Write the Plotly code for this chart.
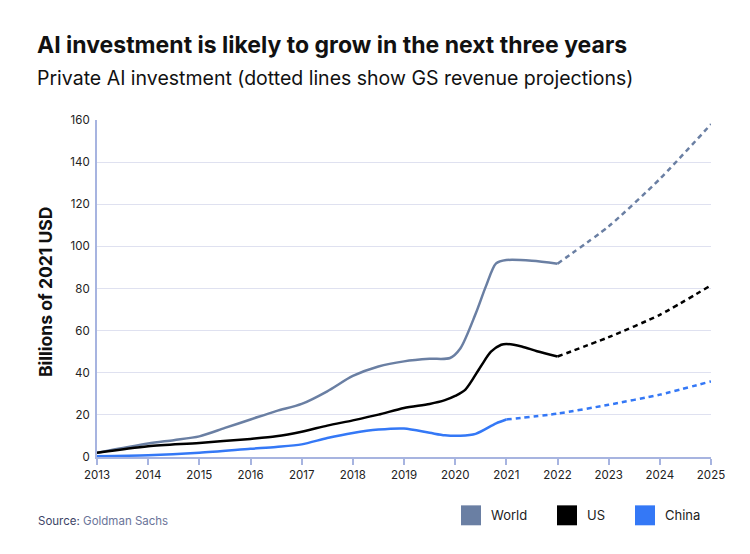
import plotly.graph_objects as go

# ---- data (billions of 2021 USD) ----
world_x = [2013, 2014, 2014.5, 2015, 2015.5, 2016, 2016.5, 2017, 2017.5, 2018, 2018.5, 2019, 2019.5, 2019.9,
           2020.1, 2020.4, 2020.6, 2020.8, 2021, 2021.5, 2022]
world_y = [2.0, 6.4, 8.0, 9.8, 13.8, 17.8, 21.8, 25.2, 31.2, 38.5, 43.0, 45.4, 46.6, 47.0,
           51.5, 68.0, 81.0, 91.9, 93.5, 93.2, 91.8]
world_proj_x = [2022, 2023, 2024, 2025]
world_proj_y = [91.8, 109.5, 132.0, 158.0]

us_x = [2013, 2014, 2015, 2016, 2016.5, 2017, 2017.5, 2018, 2018.5, 2019, 2019.5, 2019.8, 2020,
        2020.2, 2020.5, 2020.7, 2020.9, 2021, 2021.3, 2021.6, 2022]
us_y = [2.0, 5.1, 6.7, 8.6, 9.8, 12.0, 14.9, 17.4, 20.1, 23.3, 25.2, 27.0, 29.0,
        32.0, 43.0, 50.0, 53.3, 53.7, 52.5, 50.2, 47.7]
us_proj_x = [2022, 2023, 2024, 2025]
us_proj_y = [47.7, 56.9, 67.5, 81.5]

china_x = [2013, 2014, 2015, 2016, 2016.5, 2017, 2017.5, 2018, 2018.5, 2019, 2019.5, 2019.8, 2020.1,
           2020.4, 2020.8, 2021]
china_y = [0.4, 0.8, 2.0, 3.9, 4.8, 6.0, 9.0, 11.4, 13.0, 13.5, 11.5, 10.3, 10.1,
           11.0, 16.0, 17.8]
china_proj_x = [2021, 2022, 2023, 2024, 2025]
china_proj_y = [17.8, 20.6, 24.8, 29.6, 35.9]

x_ticks = list(range(2013, 2026))
y_ticks = [0, 20, 40, 60, 80, 100, 120, 140, 160]

series_names = ["World", "US", "China"]
series_colors = ["#6a7fa3", "#000000", "#3478f6"]

FONT = "Inter"

fig = go.Figure()
actuals = [(world_x, world_y), (us_x, us_y), (china_x, china_y)]
projs = [(world_proj_x, world_proj_y), (us_proj_x, us_proj_y), (china_proj_x, china_proj_y)]
for name, col, (ax, ay), (px, py) in zip(series_names, series_colors, actuals, projs):
    fig.add_trace(go.Scatter(x=px, y=py, mode="lines", name=name + " projection",
                             line=dict(color=col, width=2.5, dash="5px,4px", shape="spline", smoothing=0.6),
                             showlegend=False, hoverinfo="skip"))
    fig.add_trace(go.Scatter(x=ax, y=ay, mode="lines", name=name,
                             line=dict(color=col, width=2.5, shape="spline", smoothing=0.8),
                             showlegend=False))

# plot area in pixels
L, R, T, B = 97, 711, 119.5, 457.5
W, H = 750, 554
def px_x(p):
    return (p - L) / (R - L)
def px_y(p):
    return (B - p) / (B - T)

axis_col = "#a7b4e0"
grid_col = "#dfe1f0"

fig.update_layout(
    width=W, height=H,
    margin=dict(l=L, r=W - R, t=T, b=H - B, pad=0),
    paper_bgcolor="white", plot_bgcolor="white",
    font=dict(family=FONT, color="#222222"),
    xaxis=dict(range=[2013, 2025], tickvals=x_ticks, ticktext=[str(v) for v in x_ticks],
               showgrid=False, showline=True, linecolor=axis_col, linewidth=2,
               ticks="outside", tickcolor=axis_col, ticklen=6, tickwidth=2,
               tickfont=dict(size=11.5, color="#222222"), zeroline=False, fixedrange=True),
    yaxis=dict(range=[0, 160], tickvals=y_ticks, showgrid=True, gridcolor=grid_col, gridwidth=1,
               showline=True, linecolor=axis_col, linewidth=2, ticks="", ticklabelstandoff=3,
               tickfont=dict(size=11.5, color="#222222"), zeroline=False, fixedrange=True),
    showlegend=False,
)

annotations = [
    dict(text="<b>AI investment is likely to grow in the next three years</b>", x=px_x(35), y=px_y(44),
         xanchor="left", yanchor="middle", font=dict(size=23, color="#111111", family=FONT)),
    dict(text="Private AI investment (dotted lines show GS revenue projections)", x=px_x(35), y=px_y(77),
         xanchor="left", yanchor="middle", font=dict(size=19.5, color="#111111", family=FONT)),
    dict(text="<b>Billions of 2021 USD</b>", x=px_x(46), y=px_y(292), textangle=-90,
         xanchor="center", yanchor="middle", font=dict(size=17.5, color="#111111", family=FONT)),
    dict(text="<span style='color:#3d4466'>Source:</span> <span style='color:#6a7499'>Goldman Sachs</span>",
         x=px_x(36), y=px_y(522), xanchor="left", yanchor="middle", font=dict(size=11.5, family=FONT)),
]
shapes = []
sq_left = [461, 557, 635]
txt_left = [489, 585, 663]
for name, col, sl, tl in zip(series_names, series_colors, sq_left, txt_left):
    shapes.append(dict(type="rect", xref="paper", yref="paper", x0=px_x(sl), x1=px_x(sl + 20),
                       y0=px_y(526), y1=px_y(506), fillcolor=col, line=dict(width=0)))
    annotations.append(dict(text=name, x=px_x(tl), y=px_y(516), xanchor="left", yanchor="middle",
                            font=dict(size=13, color="#222222", family=FONT)))
for a in annotations:
    a.update(xref="paper", yref="paper", showarrow=False)
fig.update_layout(annotations=annotations, shapes=shapes)

fig.write_html("out.html")
